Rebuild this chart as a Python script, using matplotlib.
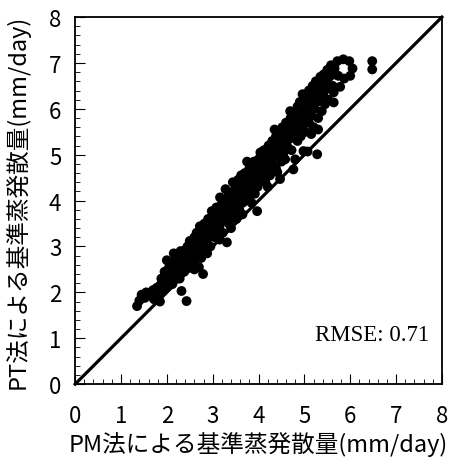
import matplotlib
matplotlib.use("Agg")
import matplotlib.pyplot as plt
from matplotlib.ticker import MultipleLocator

plt.rcParams['font.family'] = ['Noto Sans CJK JP', 'DejaVu Sans']

# PM method (x) vs PT method (y) reference evapotranspiration, mm/day
pm_et = [
    1.35, 1.40, 1.45, 1.52, 1.55, 1.60, 1.65, 1.70, 1.72, 1.78, 1.80, 1.85, 1.88, 1.90,
    1.95, 1.95, 1.98, 2.00, 2.02, 1.85,
    2.05, 2.05, 2.08, 2.10, 2.12, 2.15, 2.18, 2.20, 2.20, 2.22, 2.25, 2.25, 2.28, 2.30,
    2.32, 2.32, 2.35, 2.35, 2.38, 2.40, 2.40, 2.42, 2.43, 2.45, 2.45, 2.48, 2.48, 2.50,
    2.50, 2.30, 2.15,
    2.52, 2.55, 2.55, 2.58, 2.60, 2.60, 2.62, 2.65, 2.65, 2.68, 2.70, 2.72, 2.72, 2.75,
    2.75, 2.78, 2.79, 2.80, 2.80, 2.82, 2.85, 2.85, 2.88, 2.88, 2.90, 2.90, 2.92, 2.95,
    2.95, 2.98, 2.98, 3.00, 3.00, 2.70, 2.60,
    3.02, 3.05, 3.05, 3.08, 3.10, 3.10, 3.12, 3.15, 3.16, 3.18, 3.20, 3.20, 3.22, 3.25,
    3.25, 3.28, 3.30, 3.31, 3.32, 3.35, 3.35, 3.38, 3.40, 3.40, 3.42, 3.44, 3.45, 3.45,
    3.48, 3.50, 3.50, 3.52, 3.15, 3.40, 3.28,
    3.52, 3.55, 3.55, 3.58, 3.60, 3.62, 3.62, 3.65, 3.68, 3.70, 3.70, 3.72, 3.75, 3.78,
    3.80, 3.80, 3.82, 3.82, 3.85, 3.88, 3.90, 3.90, 3.92, 3.95, 3.95, 3.97, 3.98, 4.00,
    4.00, 3.65, 3.85, 3.75,
    4.02, 4.04, 4.05, 4.08, 4.08, 4.10, 4.12, 4.15, 4.15, 4.18, 4.20, 4.22, 4.22, 4.25,
    4.28, 4.30, 4.30, 4.32, 4.35, 4.38, 4.38, 4.40, 4.41, 4.42, 4.45, 4.45, 4.47, 4.48,
    4.50, 4.50, 4.20, 4.35,
    4.52, 4.55, 4.55, 4.58, 4.58, 4.60, 4.62, 4.65, 4.68, 4.69, 4.70, 4.72, 4.75, 4.76,
    4.78, 4.80, 4.80, 4.82, 4.85, 4.85, 4.88, 4.90, 4.90, 4.92, 4.95, 4.96, 4.98, 4.98,
    5.00, 5.00,
    5.02, 5.05, 5.07, 5.08, 5.10, 5.10, 5.12, 5.15, 5.18, 5.20, 5.20, 5.22, 5.25, 5.25,
    5.28, 5.28, 5.30, 5.32, 5.35, 5.35, 5.38, 5.40, 5.42, 5.42, 5.45, 5.48, 5.50, 5.50,
    5.15, 5.30,
    5.52, 5.55, 5.58, 5.62, 5.64, 5.64, 5.68, 5.78, 5.66, 5.72, 5.85, 5.98, 6.05, 6.00,
    5.87, 5.74, 6.48, 6.48,
]
pt_et = [
    1.70, 1.82, 1.95, 1.88, 2.00, 1.95, 1.92, 2.05, 1.85, 2.10, 1.95, 2.15, 2.30, 2.02,
    2.20, 2.45, 2.10, 2.70, 2.35, 1.80,
    2.25, 2.55, 2.40, 2.62, 2.18, 2.45, 2.70, 2.35, 2.55, 2.80, 2.48, 2.62, 2.30, 2.75,
    2.03, 2.55, 2.85, 2.68, 2.45, 2.92, 2.60, 2.78, 1.81, 2.52, 3.00, 2.70, 2.85, 3.12,
    2.62, 2.90, 2.85,
    2.95, 2.78, 3.05, 2.88, 3.20, 2.70, 3.00, 2.85, 3.30, 3.10, 2.95, 3.44, 3.20, 3.05,
    2.75, 3.35, 2.40, 3.15, 2.90, 3.50, 3.25, 3.05, 3.40, 2.85, 3.60, 3.18, 3.30, 3.45,
    3.00, 3.77, 3.55, 3.25, 3.40, 2.55, 2.50,
    3.65, 3.50, 3.20, 3.85, 3.35, 3.60, 3.75, 3.45, 4.07, 3.90, 3.55, 3.70, 3.30, 3.85,
    4.00, 3.60, 3.75, 3.09, 3.95, 4.15, 3.50, 3.80, 4.05, 3.65, 3.90, 4.40, 4.20, 3.75,
    4.00, 3.85, 4.30, 3.60, 3.15, 3.40, 4.25,
    4.15, 4.00, 4.45, 3.80, 4.25, 4.10, 4.55, 3.95, 4.35, 4.20, 4.60, 4.00, 4.45, 4.30,
    4.70, 4.10, 4.73, 4.50, 4.25, 4.60, 4.40, 4.85, 4.15, 4.70, 4.50, 3.77, 4.30, 4.90,
    4.60, 3.70, 3.95, 4.85,
    4.75, 5.05, 4.45, 4.53, 4.90, 4.65, 5.10, 4.80, 4.40, 5.00, 4.70, 5.20, 4.90, 4.55,
    5.05, 4.80, 5.30, 5.15, 4.95, 5.40, 4.70, 5.10, 4.62, 5.25, 5.00, 5.50, 4.47, 5.35,
    5.15, 4.85, 4.30, 5.55,
    5.60, 5.30, 5.05, 4.90, 5.45, 5.70, 5.20, 5.55, 5.35, 5.95, 5.80, 5.10, 5.60, 4.68,
    5.45, 4.90, 5.85, 5.70, 6.05, 5.30, 5.55, 6.15, 5.75, 5.40, 5.95, 6.32, 5.08, 5.65,
    6.10, 5.85,
    5.50, 6.25, 5.07, 5.95, 6.40, 5.70, 6.10, 5.85, 6.50, 6.25, 5.60, 6.00, 6.60, 6.35,
    5.01, 6.15, 5.80, 6.45, 6.70, 6.25, 5.95, 6.55, 6.75, 6.35, 6.10, 6.60, 6.85, 6.45,
    5.45, 5.55,
    6.20, 6.70, 6.95, 6.50, 6.36, 6.14, 6.75, 6.48, 6.88, 7.04, 7.08, 7.04, 6.88, 6.72,
    6.66, 6.72, 7.04, 6.86,
]
rmse = 0.71

fig = plt.figure(figsize=(4.5, 4.64), dpi=100)
ax = fig.add_axes([0.167, 0.170, 0.815, 0.791])

ax.scatter(pm_et, pt_et, s=50, color='black', edgecolors='none', zorder=3)
ax.plot([0, 8], [0, 8], color='black', lw=2.3, zorder=2, clip_on=False)

ax.set_xlim(0, 8)
ax.set_ylim(0, 8)
ax.xaxis.set_major_locator(MultipleLocator(1))
ax.yaxis.set_major_locator(MultipleLocator(1))
ax.xaxis.set_minor_locator(MultipleLocator(0.2))
ax.yaxis.set_minor_locator(MultipleLocator(0.2))
ax.tick_params(which='major', direction='in', length=7, width=0.8, labelsize=16)
ax.tick_params(axis='x', which='major', pad=14)
ax.tick_params(axis='y', which='major', pad=10)
ax.tick_params(which='minor', direction='in', length=3.5, width=0.6)
for sp in ax.spines.values():
    sp.set_linewidth(1.3)

ax.set_xlabel('PM法による基準蒸発散量(mm/day)', fontsize=17, labelpad=3)
ax.set_ylabel('PT法による基準蒸発散量(mm/day)', fontsize=17, labelpad=14)

ax.text(7.72, 1.09, f'RMSE: {rmse}', ha='right', va='center', fontsize=16.5,
        family=['Liberation Serif', 'DejaVu Serif'])

fig.savefig('out.png', dpi=100)
